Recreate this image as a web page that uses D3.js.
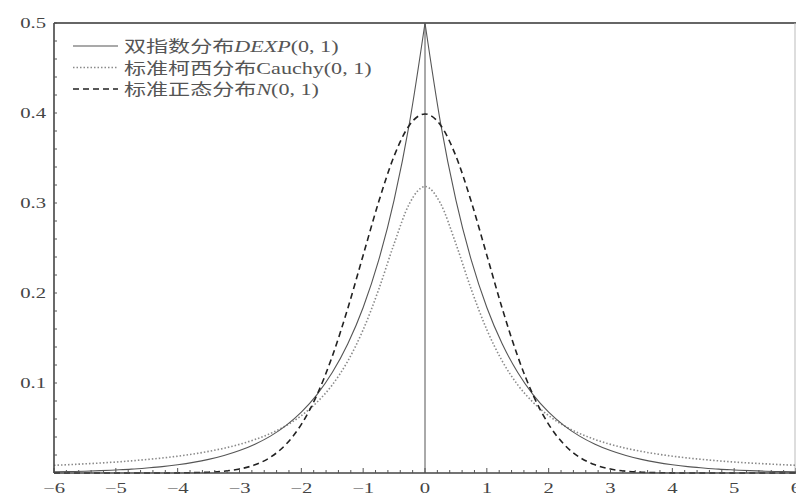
<!DOCTYPE html>
<html>
<head>
<meta charset="utf-8">
<script src="https://cdn.jsdelivr.net/npm/d3@7"></script>
<style>
  body { margin: 0; background: #fff; }
  svg { display: block; }
</style>
</head>
<body>
<svg id="chart" width="796" height="495"></svg>
<script>
"use strict";

// x positions of the sampled points
const xs = [-6, -5.75, -5.5, -5.25, -5, -4.75, -4.5, -4.25, -4, -3.75, -3.5, -3.25, -3, -2.75, -2.5, -2.25,
  -2, -1.75, -1.5, -1.25, -1, -0.75, -0.5, -0.25, 0, 0.25, 0.5, 0.75, 1, 1.25, 1.5, 1.75,
  2, 2.25, 2.5, 2.75, 3, 3.25, 3.5, 3.75, 4, 4.25, 4.5, 4.75, 5, 5.25, 5.5, 5.75, 6];

// double exponential DEXP(0,1)
const dexp = [0.0012, 0.0016, 0.0020, 0.0026, 0.0034, 0.0043, 0.0056, 0.0071, 0.0092, 0.0118, 0.0151, 0.0194, 0.0249, 0.0320, 0.0410, 0.0527,
  0.0677, 0.0869, 0.1116, 0.1433, 0.1839, 0.2362, 0.3033, 0.3894, 0.5, 0.3894, 0.3033, 0.2362, 0.1839, 0.1433, 0.1116, 0.0869,
  0.0677, 0.0527, 0.0410, 0.0320, 0.0249, 0.0194, 0.0151, 0.0118, 0.0092, 0.0071, 0.0056, 0.0043, 0.0034, 0.0026, 0.0020, 0.0016, 0.0012];

// standard Cauchy(0,1)
const cauchy = [0.0086, 0.0093, 0.0102, 0.0111, 0.0122, 0.0135, 0.0150, 0.0167, 0.0187, 0.0211, 0.0240, 0.0275, 0.0318, 0.0372, 0.0439, 0.0525,
  0.0637, 0.0784, 0.0979, 0.1242, 0.1592, 0.2037, 0.2546, 0.2996, 0.3183, 0.2996, 0.2546, 0.2037, 0.1592, 0.1242, 0.0979, 0.0784,
  0.0637, 0.0525, 0.0439, 0.0372, 0.0318, 0.0275, 0.0240, 0.0211, 0.0187, 0.0167, 0.0150, 0.0135, 0.0122, 0.0111, 0.0102, 0.0093, 0.0086];

// standard normal N(0,1)
const normal = [0, 0, 0, 0, 0, 0, 0, 0, 0.0001, 0.0004, 0.0009, 0.0020, 0.0044, 0.0091, 0.0175, 0.0317,
  0.0540, 0.0863, 0.1295, 0.1826, 0.2420, 0.3011, 0.3521, 0.3867, 0.3989, 0.3867, 0.3521, 0.3011, 0.2420, 0.1826, 0.1295, 0.0863,
  0.0540, 0.0317, 0.0175, 0.0091, 0.0044, 0.0020, 0.0009, 0.0004, 0.0001, 0, 0, 0, 0, 0, 0, 0, 0];

const xTicks = [-6, -5, -4, -3, -2, -1, 0, 1, 2, 3, 4, 5, 6];
const yTicks = [0.1, 0.2, 0.3, 0.4, 0.5];

const legendLabels = ["双指数分布", "标准柯西分布Cauchy(0, 1)", "标准正态分布"];

const LEFT = 54, RIGHT = 796, TOP = 23, BOTTOM = 473;
const STRETCH = 1.38; // the original glyphs are drawn wide

const svg = d3.select("#chart");

const x = d3.scaleLinear().domain([-6, 6]).range([LEFT, RIGHT]);
const y = d3.scaleLinear().domain([0, 0.5]).range([BOTTOM, TOP]);

// frame: top + right
svg.append("line")
  .attr("x1", LEFT).attr("x2", RIGHT).attr("y1", TOP).attr("y2", TOP)
  .attr("stroke", "#666").attr("stroke-width", 2);
svg.append("line")
  .attr("x1", RIGHT - 1).attr("x2", RIGHT - 1).attr("y1", TOP).attr("y2", BOTTOM)
  .attr("stroke", "#bbb").attr("stroke-width", 1);

// vertical line at zero
svg.append("line")
  .attr("x1", x(0)).attr("x2", x(0)).attr("y1", TOP).attr("y2", BOTTOM)
  .attr("stroke", "#555").attr("stroke-width", 1);

// curves
function makeSeries(vals) {
  return xs.map((d, i) => [d, vals[i]]);
}
const line = d3.line()
  .x(d => x(d[0]))
  .y(d => y(d[1]))
  .curve(d3.curveMonotoneX);

const cauchyPts = makeSeries(cauchy);
svg.append("path")
  .attr("d", line(cauchyPts))
  .attr("fill", "none")
  .attr("stroke", "#8a8a8a")
  .attr("stroke-width", 1.6)
  .attr("stroke-dasharray", "1.5,2");

// laplace has a cusp at 0, so draw each half on its own
const dexpPts = makeSeries(dexp);
[dexpPts.filter(d => d[0] <= 0), dexpPts.filter(d => d[0] >= 0)].forEach(half => {
  svg.append("path")
    .attr("d", line(half))
    .attr("fill", "none")
    .attr("stroke", "#555")
    .attr("stroke-width", 1.1);
});

const normalPts = makeSeries(normal);
svg.append("path")
  .attr("d", line(normalPts))
  .attr("fill", "none")
  .attr("stroke", "#222")
  .attr("stroke-width", 1.6)
  .attr("stroke-dasharray", "6,4");

// axes
const xAxisG = svg.append("g");
xAxisG.append("line")
  .attr("x1", LEFT).attr("x2", RIGHT).attr("y1", BOTTOM).attr("y2", BOTTOM)
  .attr("stroke", "#444").attr("stroke-width", 1.6);
xAxisG.selectAll(".minor")
  .data(d3.range(-30, 31).map(d => d / 5))
  .enter().append("line")
  .attr("x1", d => x(d)).attr("x2", d => x(d))
  .attr("y1", BOTTOM).attr("y2", d => Number.isInteger(d) ? BOTTOM - 5 : BOTTOM - 3)
  .attr("stroke", "#555").attr("stroke-width", 1);
xAxisG.selectAll("text")
  .data(xTicks)
  .enter().append("text")
  .attr("transform", d => `translate(${x(d)},493) scale(${STRETCH},1)`)
  .attr("text-anchor", "middle")
  .attr("font-family", "Liberation Serif, DejaVu Serif, serif")
  .attr("font-size", 15)
  .attr("fill", "#444")
  .text(d => d < 0 ? "\u2212" + Math.abs(d) : String(d));

const yAxisG = svg.append("g");
yAxisG.append("line")
  .attr("x1", LEFT).attr("x2", LEFT).attr("y1", TOP).attr("y2", BOTTOM)
  .attr("stroke", "#444").attr("stroke-width", 1.6);
yAxisG.selectAll(".minor")
  .data(d3.range(1, 26).map(d => d * 0.02))
  .enter().append("line")
  .attr("x1", LEFT).attr("x2", LEFT + 3)
  .attr("y1", d => y(d)).attr("y2", d => y(d))
  .attr("stroke", "#555").attr("stroke-width", 1);
yAxisG.selectAll("text")
  .data(yTicks)
  .enter().append("text")
  .attr("transform", d => `translate(46,${y(d) + 5}) scale(${STRETCH},1)`)
  .attr("text-anchor", "end")
  .attr("font-family", "Liberation Serif, DejaVu Serif, serif")
  .attr("font-size", 15)
  .attr("fill", "#444")
  .text(d => d.toFixed(1));

// legend
const legendStyles = [
  { stroke: "#555", width: 1.1, dash: null },
  { stroke: "#8a8a8a", width: 1.6, dash: "1.5,2" },
  { stroke: "#222", width: 1.6, dash: "6,4" }
];
const legend = svg.append("g");
legendLabels.forEach((lab, i) => {
  const ly = 46 + i * 21.5;
  const st = legendStyles[i];
  legend.append("line")
    .attr("x1", 73).attr("x2", 118).attr("y1", ly).attr("y2", ly)
    .attr("stroke", st.stroke).attr("stroke-width", st.width)
    .attr("stroke-dasharray", st.dash);
  const t = legend.append("text")
    .attr("transform", `translate(124,${ly + 6}) scale(${STRETCH},1)`)
    .attr("font-family", "Liberation Serif, Noto Sans CJK SC, serif")
    .attr("font-size", 16)
    .attr("fill", "#555");
  t.append("tspan").text(lab);
  if (i === 0) {
    t.append("tspan").attr("font-style", "italic").text("DEXP");
    t.append("tspan").text("(0, 1)");
  } else if (i === 2) {
    t.append("tspan").attr("font-style", "italic").text("N");
    t.append("tspan").text("(0, 1)");
  }
});
</script>
</body>
</html>
